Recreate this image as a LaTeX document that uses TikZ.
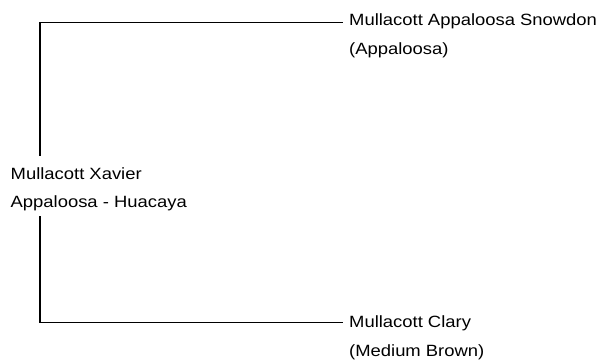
\documentclass[tikz,border=0pt]{standalone}
\usepackage{fontspec}
\setmainfont[FakeStretch=1.13]{Liberation Sans}
\begin{document}
\begin{tikzpicture}[x=1pt,y=-1pt,
  lbl/.style={anchor=base west, inner sep=0pt, font=\fontsize{16.3}{19}\selectfont},
  link/.style={line width=1.2pt, black}]
\useasboundingbox (0,0) rectangle (603,360);
% parent
\node[lbl] (par1) at (10.5,179) {Mullacott Xavier};
\node[lbl] (par2) at (10.5,207) {Appaloosa - Huacaya};
% sire
\node[lbl] (sire1) at (349,25.5) {Mullacott Appaloosa Snowdon};
\node[lbl] (sire2) at (349,54) {(Appaloosa)};
% dam
\node[lbl] (dam1) at (349,327.5) {Mullacott Clary};
\node[lbl] (dam2) at (349,356) {(Medium Brown)};
\coordinate (trunk) at (40,0);
\draw[link] ([yshift=11pt]par1.north -| trunk) |- ([xshift=-6pt,yshift=3pt]sire1.base west);
\draw[link] ([yshift=-5.6pt]par2.south -| trunk) |- ([xshift=-6pt,yshift=4.8pt]dam1.base west);
\end{tikzpicture}
\end{document}
